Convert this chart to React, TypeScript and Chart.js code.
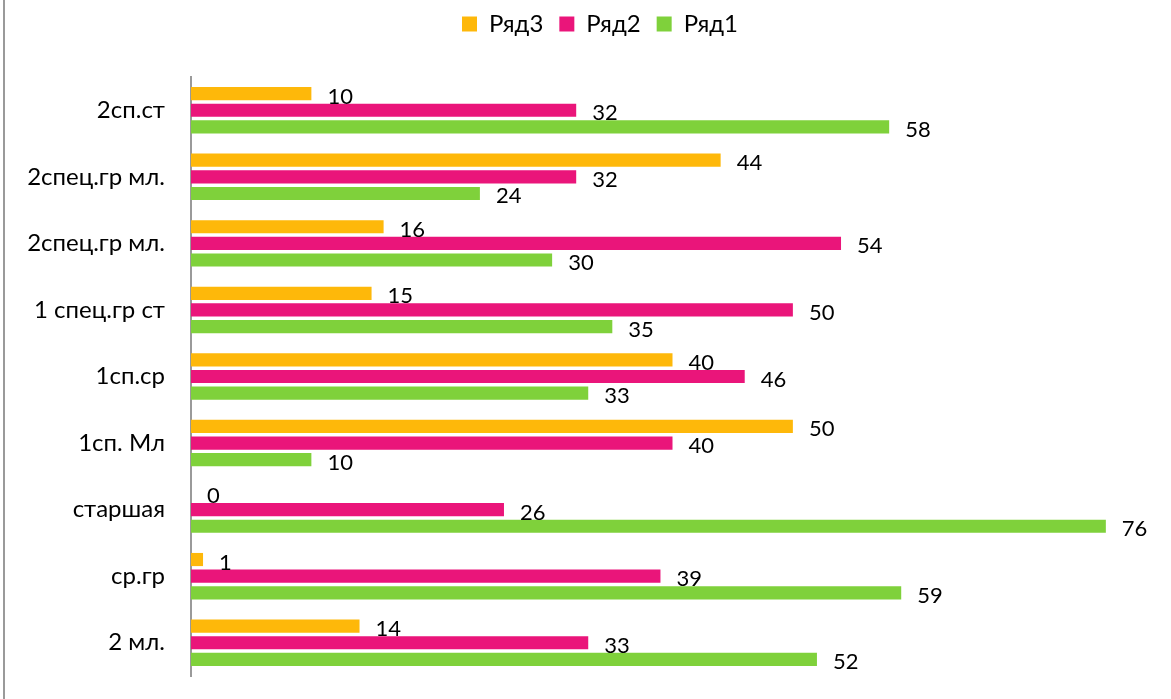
import React, { useEffect, useRef } from "react";
import { Chart, registerables } from "chart.js";

Chart.register(...registerables);

const categories = [
  "2сп.ст",
  "2спец.гр мл.",
  "2спец.гр мл.",
  "1 спец.гр ст",
  "1сп.ср",
  "1сп. Мл",
  "старшая",
  "ср.гр",
  "2 мл.",
];
const seriesNames = ["Ряд3", "Ряд2", "Ряд1"];
const row3 = [10, 44, 16, 15, 40, 50, 0, 1, 14];
const row2 = [32, 32, 54, 50, 46, 40, 26, 39, 33];
const row1 = [58, 24, 30, 35, 33, 10, 76, 59, 52];
const colors = ["#FEB80A", "#EA157A", "#7FD13B"];
const xMax = 80;

const FONT = "Lato, 'Open Sans', sans-serif";

export default function App() {
  const ref = useRef<HTMLCanvasElement | null>(null);

  useEffect(() => {
    document.body.style.margin = "0";
    const canvas = ref.current;
    if (!canvas) return;

    const framePlugin = {
      id: "frameAndLabels",
      afterInit(chart: any) {
        const legend = chart.legend;
        if (legend) {
          const origFit = legend.fit;
          legend.fit = function () {
            origFit.call(this);
            this.height = 81;
          };
          const origDraw = legend.draw;
          legend.draw = function () {
            const ctx = this.ctx;
            ctx.save();
            ctx.translate(23, 0);
            origDraw.call(this);
            ctx.restore();
          };
        }
      },
      beforeDraw(chart: any) {
        const ctx = chart.ctx;
        ctx.save();
        ctx.fillStyle = "#ffffff";
        ctx.fillRect(0, 0, chart.width, chart.height);
        ctx.fillStyle = "#9a9a9a";
        ctx.fillRect(3, 0, 2, chart.height);
        ctx.restore();
      },
      afterDatasetsDraw(chart: any) {
        const ctx = chart.ctx;
        ctx.save();
        ctx.font = `22px ${FONT}`;
        ctx.fillStyle = "#000000";
        ctx.textAlign = "left";
        ctx.textBaseline = "alphabetic";
        chart.data.datasets.forEach((ds: any, di: number) => {
          const meta = chart.getDatasetMeta(di);
          meta.data.forEach((bar: any, i: number) => {
            const v = ds.data[i];
            ctx.fillText(String(v), bar.x + 16, bar.y + 10);
          });
        });
        ctx.restore();
      },
    };

    const chart = new Chart(canvas, {
      type: "bar",
      data: {
        labels: categories,
        datasets: [
          { label: seriesNames[0], data: row3, backgroundColor: colors[0] },
          { label: seriesNames[1], data: row2, backgroundColor: colors[1] },
          { label: seriesNames[2], data: row1, backgroundColor: colors[2] },
        ],
      },
      options: {
        indexAxis: "y",
        animation: false,
        responsive: true,
        maintainAspectRatio: false,
        categoryPercentage: 0.75,
        barPercentage: 0.79,
        layout: { padding: { top: -4, left: 0, right: 17, bottom: 23 } },
        plugins: {
          legend: {
            display: true,
            position: "top",
            labels: {
              boxWidth: 15,
              boxHeight: 15,
              padding: 16,
              color: "#000000",
              font: { family: FONT, size: 24 },
            },
          },
          tooltip: { enabled: false },
        },
        scales: {
          x: {
            min: 0,
            max: xMax,
            display: false,
            grid: { display: false },
          },
          y: {
            grid: { display: false, drawTicks: false },
            border: { display: true, color: "#9a9a9a", width: 2 },
            ticks: {
              color: "#000000",
              padding: 26,
              font: { family: FONT, size: 24 },
            },
            afterFit(scale: any) {
              scale.width = 191;
              scale.paddingTop = 0;
              scale.paddingBottom = 0;
            },
          },
        },
      },
      plugins: [framePlugin],
    } as any);

    return () => chart.destroy();
  }, []);

  return (
    <div style={{ width: 1171, height: 699, position: "relative" }}>
      <canvas ref={ref} />
    </div>
  );
}
